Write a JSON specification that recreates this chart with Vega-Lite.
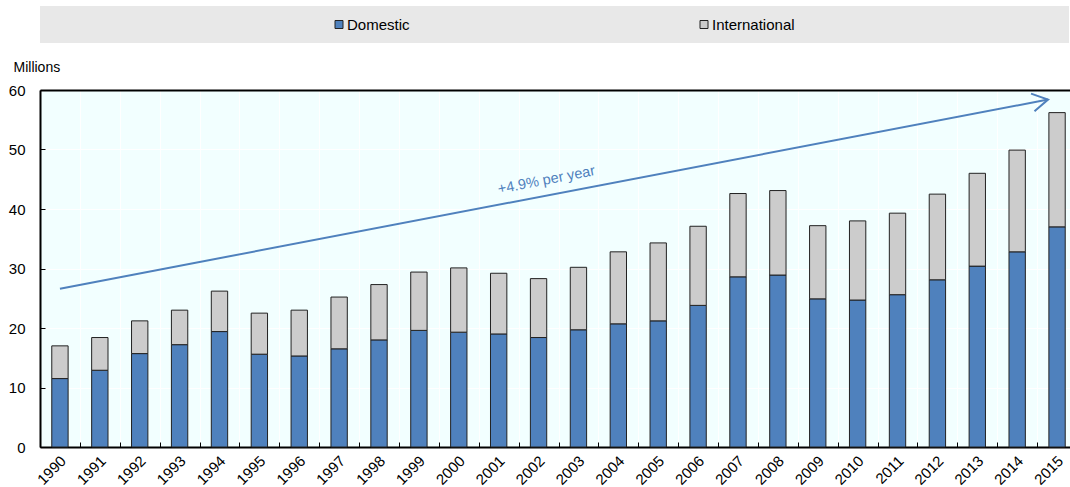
{
  "$schema": "https://vega.github.io/schema/vega-lite/v6.json",
  "background": "white",
  "padding": {"left": 8, "top": 6, "right": 0, "bottom": 0},
  "bounds": "flush",
  "spacing": 47,
  "config": {"font": "Liberation Sans"},
  "vconcat": [
    {
      "width": 1029,
      "height": 37,
      "view": {"fill": "#E8E8E8", "stroke": null},
      "data": {"values": [{"series": "Domestic"}, {"series": "International"}]},
      "layer": [
        {
          "mark": {"type": "point", "shape": "square", "filled": true, "size": 64, "stroke": "#222222", "strokeWidth": 1, "opacity": 1},
          "encoding": {
            "x": {"field": "series", "type": "nominal", "scale": {"type": "point", "range": [299, 664], "padding": 0}, "axis": null},
            "fill": {"field": "series", "type": "nominal", "scale": {"domain": ["Domestic", "International"], "range": ["#4F81BD", "#CCCCCC"]}, "legend": null}
          }
        },
        {
          "mark": {"type": "text", "align": "left", "baseline": "middle", "dx": 8, "fontSize": 15, "color": "#000000"},
          "encoding": {
            "x": {"field": "series", "type": "nominal", "scale": {"type": "point", "range": [299, 664], "padding": 0}, "axis": null},
            "text": {"field": "series", "type": "nominal"}
          }
        }
      ]
    },
    {
      "width": 1037,
      "height": 357,
      "view": {"fill": "#F2FFFF", "stroke": null},
      "layer": [
        {
          "data": {"values": [
            {"year": 1990, "series": "Domestic", "value": 11.5}, {"year": 1990, "series": "International", "value": 5.5},
            {"year": 1991, "series": "Domestic", "value": 12.9}, {"year": 1991, "series": "International", "value": 5.5},
            {"year": 1992, "series": "Domestic", "value": 15.7}, {"year": 1992, "series": "International", "value": 5.5},
            {"year": 1993, "series": "Domestic", "value": 17.2}, {"year": 1993, "series": "International", "value": 5.8},
            {"year": 1994, "series": "Domestic", "value": 19.4}, {"year": 1994, "series": "International", "value": 6.8},
            {"year": 1995, "series": "Domestic", "value": 15.6}, {"year": 1995, "series": "International", "value": 6.9},
            {"year": 1996, "series": "Domestic", "value": 15.3}, {"year": 1996, "series": "International", "value": 7.7},
            {"year": 1997, "series": "Domestic", "value": 16.5}, {"year": 1997, "series": "International", "value": 8.7},
            {"year": 1998, "series": "Domestic", "value": 18.0}, {"year": 1998, "series": "International", "value": 9.3},
            {"year": 1999, "series": "Domestic", "value": 19.6}, {"year": 1999, "series": "International", "value": 9.8},
            {"year": 2000, "series": "Domestic", "value": 19.3}, {"year": 2000, "series": "International", "value": 10.8},
            {"year": 2001, "series": "Domestic", "value": 19.0}, {"year": 2001, "series": "International", "value": 10.2},
            {"year": 2002, "series": "Domestic", "value": 18.4}, {"year": 2002, "series": "International", "value": 9.9},
            {"year": 2003, "series": "Domestic", "value": 19.7}, {"year": 2003, "series": "International", "value": 10.5},
            {"year": 2004, "series": "Domestic", "value": 20.7}, {"year": 2004, "series": "International", "value": 12.1},
            {"year": 2005, "series": "Domestic", "value": 21.2}, {"year": 2005, "series": "International", "value": 13.1},
            {"year": 2006, "series": "Domestic", "value": 23.8}, {"year": 2006, "series": "International", "value": 13.3},
            {"year": 2007, "series": "Domestic", "value": 28.6}, {"year": 2007, "series": "International", "value": 14.0},
            {"year": 2008, "series": "Domestic", "value": 28.9}, {"year": 2008, "series": "International", "value": 14.2},
            {"year": 2009, "series": "Domestic", "value": 24.9}, {"year": 2009, "series": "International", "value": 12.3},
            {"year": 2010, "series": "Domestic", "value": 24.7}, {"year": 2010, "series": "International", "value": 13.3},
            {"year": 2011, "series": "Domestic", "value": 25.6}, {"year": 2011, "series": "International", "value": 13.7},
            {"year": 2012, "series": "Domestic", "value": 28.1}, {"year": 2012, "series": "International", "value": 14.4},
            {"year": 2013, "series": "Domestic", "value": 30.4}, {"year": 2013, "series": "International", "value": 15.6},
            {"year": 2014, "series": "Domestic", "value": 32.8}, {"year": 2014, "series": "International", "value": 17.1},
            {"year": 2015, "series": "Domestic", "value": 37.0}, {"year": 2015, "series": "International", "value": 19.2}
          ]},
          "mark": {"type": "bar", "width": {"band": 0.41}, "stroke": "#222222", "strokeWidth": 1},
          "encoding": {
            "x": {
              "field": "year", "type": "ordinal",
              "scale": {"paddingInner": 0, "paddingOuter": 0},
              "axis": {
                "title": null, "labelAngle": -45, "labelAlign": "right", "labelBaseline": "middle",
                "labelFontSize": 15, "labelColor": "#000000", "labelPadding": 16, "labelOffset": 3,
                "tickBand": "extent", "tickSize": -5, "tickColor": "#000000", "tickWidth": 1,
                "domainColor": "#000000", "domainWidth": 2,
                "grid": true, "gridColor": "#FFFFFF", "gridWidth": 1
              }
            },
            "y": {
              "field": "value", "type": "quantitative", "stack": "zero",
              "scale": {"domain": [0, 60], "nice": false},
              "axis": {
                "title": "Millions", "values": [0, 10, 20, 30, 40, 50, 60],
                "labelFontSize": 15, "labelColor": "#000000", "labelPadding": 20,
                "tickSize": -5, "tickColor": "#000000", "tickWidth": 1,
                "domainColor": "#000000", "domainWidth": 2,
                "grid": true,
                "gridColor": {"condition": {"test": "datum.value === 60", "value": "#000000"}, "value": "#FFFFFF"},
                "gridWidth": {"condition": {"test": "datum.value === 60", "value": 2}, "value": 1},
                "titleAngle": 0, "titleAlign": "left", "titleBaseline": "alphabetic",
                "titleX": -27, "titleY": -19, "titleFontSize": 14, "titleFontWeight": "normal", "titleColor": "#000000"
              }
            },
            "color": {"field": "series", "type": "nominal", "scale": {"domain": ["Domestic", "International"], "range": ["#4F81BD", "#CCCCCC"]}, "legend": null},
            "order": {"field": "series", "sort": "ascending"}
          }
        },
        {
          "data": {"values": [{"year": 1990, "value": 26.6, "year2": 2015, "value2": 58.4}]},
          "mark": {"type": "rule", "color": "#4F81BD", "strokeWidth": 2, "x2Offset": -9},
          "encoding": {
            "x": {"field": "year", "type": "ordinal"},
            "x2": {"field": "year2"},
            "y": {"field": "value", "type": "quantitative"},
            "y2": {"field": "value2"}
          }
        },
        {
          "data": {"values": [{"year": 2015, "value": 58.4}]},
          "mark": {"type": "point", "shape": "M-0.866,-0.5L0,0L-0.866,0.5", "filled": false, "stroke": "#4F81BD", "strokeWidth": 2, "size": 1296, "angle": 349, "xOffset": -9, "opacity": 1},
          "encoding": {
            "x": {"field": "year", "type": "ordinal"},
            "y": {"field": "value", "type": "quantitative"}
          }
        },
        {
          "data": {"values": [{"year": 2002, "value": 44.8, "label": "+4.9% per year"}]},
          "mark": {"type": "text", "angle": 349, "fontSize": 14.5, "color": "#4F81BD", "xOffset": 8, "align": "center", "baseline": "middle"},
          "encoding": {
            "x": {"field": "year", "type": "ordinal"},
            "y": {"field": "value", "type": "quantitative"},
            "text": {"field": "label", "type": "nominal"}
          }
        }
      ]
    }
  ]
}
